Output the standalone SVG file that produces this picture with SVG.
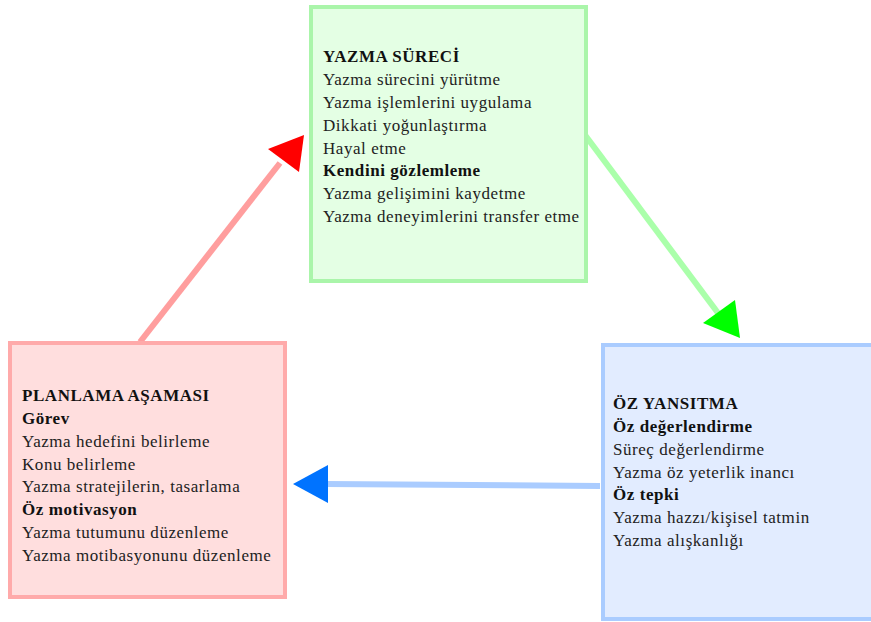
<svg xmlns="http://www.w3.org/2000/svg" width="871" height="622" viewBox="0 0 871 622">
<style>
text{font-family:"Liberation Serif","Times New Roman",serif;font-size:17px;letter-spacing:0.55px;fill:#222}
.b{font-weight:bold;fill:#111}
</style>
<rect width="871" height="622" fill="#fff"/>
<g id="connectors">
<line x1="140" y1="342" x2="280" y2="163" stroke="#ff9e9e" stroke-width="6"/>
<polygon points="304,135 268,149 299,172" fill="#ff0000"/>
<line x1="585" y1="135" x2="718" y2="313" stroke="#aaffaa" stroke-width="6"/>
<polygon points="740,338 703,323 735,300" fill="#00ff00"/>
<line x1="600" y1="486" x2="326" y2="484" stroke="#aaccff" stroke-width="6"/>
<polygon points="293,484 328,465 328,503" fill="#0073ff"/>
</g>
<g id="yazma-sureci">
<rect x="311" y="7" width="275" height="274" fill="#e4ffe4" stroke="#aaf5aa" stroke-width="4"/>
<text x="323" y="62" class="b">YAZMA SÜRECİ</text>
<text x="323" y="85">Yazma sürecini yürütme</text>
<text x="323" y="108">Yazma işlemlerini uygulama</text>
<text x="323" y="131">Dikkati yoğunlaştırma</text>
<text x="323" y="154">Hayal etme</text>
<text x="323" y="176" class="b">Kendini gözlemleme</text>
<text x="323" y="199">Yazma gelişimini kaydetme</text>
<text x="323" y="222">Yazma deneyimlerini transfer etme</text>
</g>
<g id="planlama">
<rect x="10" y="343" width="275" height="254" fill="#ffdede" stroke="#ffaaaa" stroke-width="4"/>
<text x="22" y="401" class="b">PLANLAMA AŞAMASI</text>
<text x="22" y="424" class="b">Görev</text>
<text x="22" y="447">Yazma hedefini belirleme</text>
<text x="22" y="470">Konu belirleme</text>
<text x="22" y="492">Yazma stratejilerin, tasarlama</text>
<text x="22" y="515" class="b">Öz motivasyon</text>
<text x="22" y="538">Yazma tutumunu düzenleme</text>
<text x="22" y="561">Yazma motibasyonunu düzenleme</text>
</g>
<g id="oz-yansitma">
<rect x="603" y="345" width="280" height="274" fill="#e2ecff" stroke="#aaccff" stroke-width="4"/>
<text x="613" y="409" class="b">ÖZ YANSITMA</text>
<text x="613" y="432" class="b">Öz değerlendirme</text>
<text x="613" y="455">Süreç değerlendirme</text>
<text x="613" y="478">Yazma öz yeterlik inancı</text>
<text x="613" y="500" class="b">Öz tepki</text>
<text x="613" y="523">Yazma hazzı/kişisel tatmin</text>
<text x="613" y="546">Yazma alışkanlığı</text>
</g>
</svg>
